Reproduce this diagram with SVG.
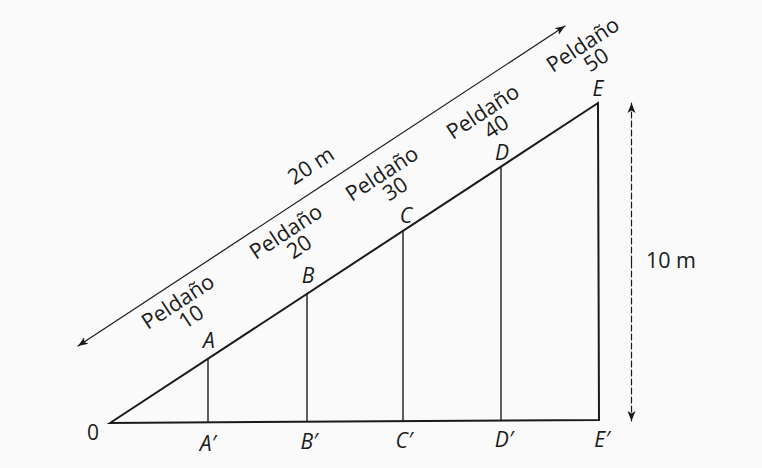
<svg xmlns="http://www.w3.org/2000/svg" width="762" height="468" viewBox="0 0 762 468">
<defs>
<marker id="ah" viewBox="0 0 10 10" refX="10" refY="5" markerWidth="10" markerHeight="10" markerUnits="userSpaceOnUse" orient="auto">
<path d="M0,1 L10,5 L0,9 L2.5,5 Z" fill="#1a1a1a"/>
</marker>
</defs>
<style>
.t{font-family:"Open Sans","Noto Sans","DejaVu Sans",sans-serif;fill:#1a1a1a}
.lab{font-size:21.5px;text-anchor:middle}
.pt{font-size:21px;font-style:italic;text-anchor:middle}
.edge{stroke:#1a1a1a;fill:none;stroke-linecap:round}
.thick{stroke-width:2}
.thin{stroke-width:1.4}
.dim{stroke-width:1.2}
</style>
<rect width="762" height="468" fill="#fafafa"/>
<g id="connectors">
<path class="edge thick" d="M110,423 L598,103 L599,420 Z" stroke-linejoin="miter"/>
<line class="edge thin" x1="208" y1="359" x2="208" y2="422"/>
<line class="edge thin" x1="307" y1="294" x2="307" y2="421.5"/>
<line class="edge thin" x1="403" y1="231" x2="403" y2="421"/>
<line class="edge thin" x1="501" y1="167" x2="501" y2="420.5"/>
<line class="edge dim" x1="321.5" y1="186" x2="565" y2="26" marker-end="url(#ah)"/>
<line class="edge dim" x1="321.5" y1="186" x2="78" y2="346" marker-end="url(#ah)"/>
<line class="edge dim" x1="631.5" y1="262" x2="631.5" y2="103" stroke-dasharray="6 3" marker-end="url(#ah)"/>
<line class="edge dim" x1="631.5" y1="262" x2="631.5" y2="421" stroke-dasharray="6 3" marker-end="url(#ah)"/>
</g>
<g id="node-O"><text class="t lab" x="93" y="440" style="font-size:21px">0</text></g>
<g id="node-A"><text class="t pt" x="209" y="348">A</text></g>
<g id="node-B"><text class="t pt" x="308" y="283">B</text></g>
<g id="node-C"><text class="t pt" x="406" y="223">C</text></g>
<g id="node-D"><text class="t pt" x="502" y="160">D</text></g>
<g id="node-E"><text class="t pt" x="598" y="96">E</text></g>
<g id="node-A1"><text class="t pt" x="208" y="451">A′</text></g>
<g id="node-B1"><text class="t pt" x="309" y="449">B′</text></g>
<g id="node-C1"><text class="t pt" x="404" y="448">C′</text></g>
<g id="node-D1"><text class="t pt" x="504" y="447">D′</text></g>
<g id="node-E1"><text class="t pt" x="602" y="447">E′</text></g>
<g id="label-10m"><text class="t lab" x="671" y="268">10 m</text></g>
<g id="label-20m" transform="translate(311,166) rotate(-33.3)"><text class="t lab" x="0" y="7">20 m</text></g>
<g id="label-p10" transform="translate(178,302) rotate(-33.3)"><text class="t lab" x="0" y="7">Peldaño</text><text class="t lab" x="3" y="27">10</text></g>
<g id="label-p20" transform="translate(286,232) rotate(-33.3)"><text class="t lab" x="0" y="7">Peldaño</text><text class="t lab" x="3" y="27">20</text></g>
<g id="label-p30" transform="translate(382,174) rotate(-33.3)"><text class="t lab" x="0" y="7">Peldaño</text><text class="t lab" x="3" y="27">30</text></g>
<g id="label-p40" transform="translate(483,112) rotate(-33.3)"><text class="t lab" x="0" y="7">Peldaño</text><text class="t lab" x="3" y="27">40</text></g>
<g id="label-p50" transform="translate(583,45) rotate(-33.3)"><text class="t lab" x="0" y="7">Peldaño</text><text class="t lab" x="3" y="27">50</text></g>
</svg>
